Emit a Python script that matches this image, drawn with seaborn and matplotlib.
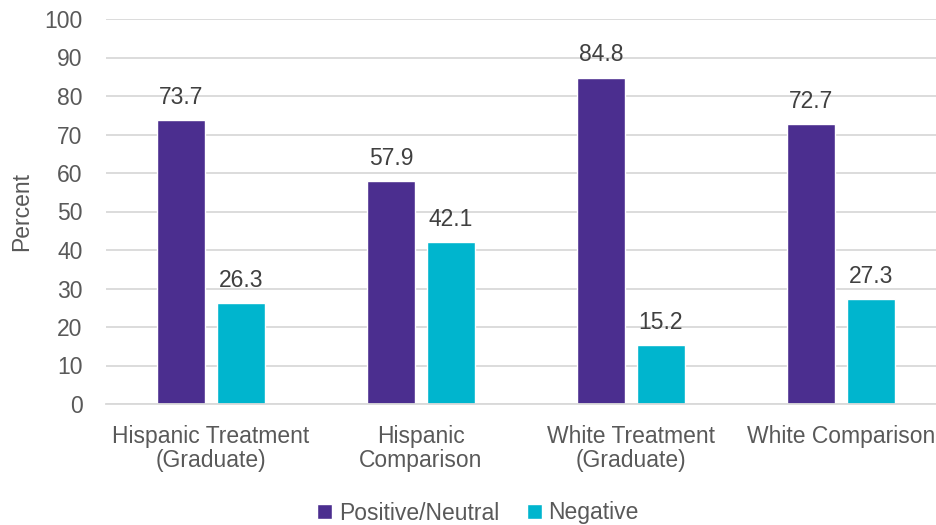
import matplotlib
matplotlib.use("Agg")
import matplotlib.pyplot as plt
import seaborn as sns
import pandas as pd

groups = ["Hispanic Treatment\n(Graduate)", "Hispanic\nComparison",
          "White Treatment\n(Graduate)", "White Comparison"]
positive_neutral = [73.7, 57.9, 84.8, 72.7]
negative = [26.3, 42.1, 15.2, 27.3]
series = ["Positive/Neutral", "Negative"]
colors = ["#4B2E8F", "#00B5CE"]
y_ticks = list(range(0, 101, 10))

df = pd.DataFrame({
    "group": groups * 2,
    "series": [series[0]] * len(groups) + [series[1]] * len(groups),
    "value": positive_neutral + negative,
})

sns.set_theme(style="white")
plt.rcParams["font.family"] = ["Liberation Sans", "DejaVu Sans"]
text_color = "#595959"
fs = 16.5

fig = plt.figure(figsize=(9.36, 5.25), dpi=100)
ax = fig.add_axes([106 / 936, 1 - 404 / 525, 840 / 936, 385 / 525])

sns.barplot(data=df, x="group", y="value", hue="series", order=groups,
            hue_order=series, palette=colors, width=0.571, gap=0.2,
            saturation=1, ax=ax, legend=True)

ax.set_ylim(0, 100)
ax.set_yticks(y_ticks)
ax.set_xlim(-0.5, len(groups) - 0.5)
ax.yaxis.grid(True, color="#d9d9d9", linewidth=1.3)
ax.set_axisbelow(True)
for s in ["top", "right", "left"]:
    ax.spines[s].set_visible(False)
ax.spines["bottom"].set_color("#d9d9d9")
ax.spines["bottom"].set_linewidth(1.3)

ax.tick_params(axis="both", length=0, labelsize=fs, labelcolor=text_color)
ax.tick_params(axis="y", pad=17)
ax.tick_params(axis="x", pad=15)
for lbl in ax.get_xticklabels():
    lbl.set_linespacing(1.05)
ax.set_xlabel("")
ax.set_ylabel("Percent", fontsize=fs, color=text_color, labelpad=8)

for container in ax.containers:
    ax.bar_label(container, fmt="%.1f", padding=8, fontsize=fs, color="#404040")

handles, labels = ax.get_legend_handles_labels()
ax.legend(handles, labels, loc="center", bbox_to_anchor=(478 / 936, 12 / 525),
          bbox_transform=fig.transFigure, ncol=2, frameon=False,
          fontsize=fs, labelcolor=text_color, handlelength=0.65,
          handleheight=0.65, handletextpad=0.3, columnspacing=1.2)

fig.savefig("out.png", dpi=100)
